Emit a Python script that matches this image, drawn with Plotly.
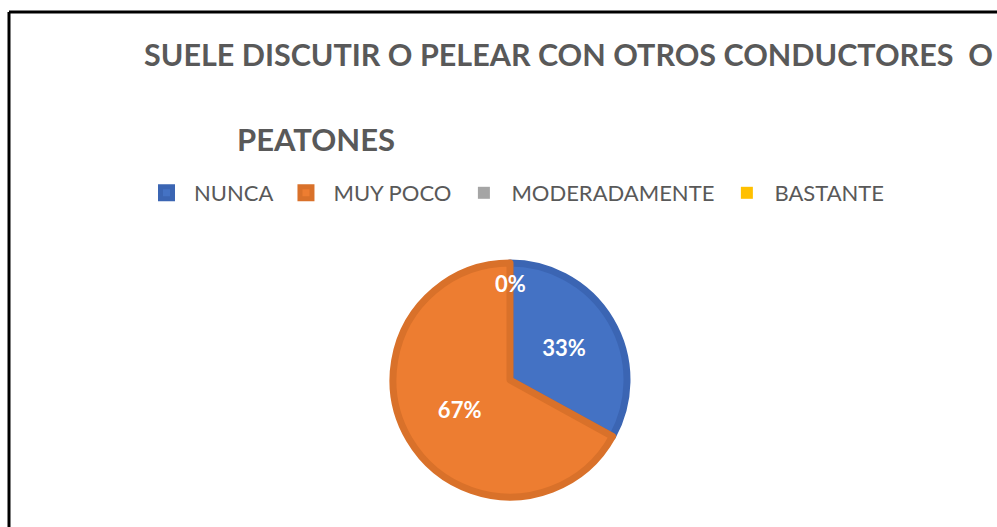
import plotly.graph_objects as go

categories = ["NUNCA", "MUY POCO", "MODERADAMENTE", "BASTANTE"]
percentages = [33, 67, 0, 0]
fill_colors = ["#4472C4", "#ED7D31", "#A5A5A5", "#FFC000"]
edge_colors = ["#3B65B3", "#D9712A", "#959595", "#E6AD00"]
edge_widths = [7, 7, 0, 0]
title_line1 = "SUELE DISCUTIR O PELEAR CON OTROS CONDUCTORES  O"
title_line2 = "PEATONES"

W, H = 997, 527

def px_x(v):
    return v / W

def px_y(v):
    return 1 - v / H

pie_cx, pie_cy, pie_r = 510, 380, 117
dom_x = [px_x(pie_cx - pie_r), px_x(pie_cx + pie_r)]
dom_y = [px_y(pie_cy + pie_r), px_y(pie_cy - pie_r)]

fig = go.Figure()
fig.add_trace(go.Pie(
    labels=categories,
    values=percentages,
    sort=False,
    direction="clockwise",
    rotation=0,
    marker=dict(colors=fill_colors, line=dict(color=edge_colors, width=edge_widths)),
    texttemplate="%{value}%",
    textposition="inside",
    insidetextorientation="horizontal",
    textfont=dict(family="Lato", size=22, color="white", weight="bold"),
    domain=dict(x=dom_x, y=dom_y),
    showlegend=True,
    hoverinfo="label+percent",
))

# label for the zero-valued slices (plotly does not draw text for empty slices)
zero_labels = [f"{v}%" for v in percentages if v == 0]
annotations = [
    dict(text=title_line1, xref="paper", yref="paper",
         x=px_x(142), y=px_y(54), xanchor="left", yanchor="middle",
         showarrow=False, font=dict(family="Lato", size=30.5, color="#595959", weight="bold")),
    dict(text=title_line2, xref="paper", yref="paper",
         x=px_x(235), y=px_y(139), xanchor="left", yanchor="middle",
         showarrow=False, font=dict(family="Lato", size=31, color="#595959", weight="bold")),
]
if zero_labels:
    annotations.append(dict(
        text=zero_labels[0], xref="paper", yref="paper",
        x=(dom_x[0] + dom_x[1]) / 2, y=dom_y[1] - 20 / H,
        xanchor="center", yanchor="middle", showarrow=False,
        font=dict(family="Lato", size=22, color="white", weight="bold"),
    ))

fig.update_layout(
    width=W, height=H,
    margin=dict(l=0, r=0, t=0, b=0),
    paper_bgcolor="white",
    plot_bgcolor="white",
    font=dict(family="Lato", color="#595959"),
    legend=dict(
        orientation="h",
        x=px_x(139), y=px_y(193),
        xanchor="left", yanchor="middle",
        font=dict(family="Lato", size=22, color="#595959"),
        itemwidth=45,
        traceorder="normal",
    ),
    annotations=annotations,
    shapes=[
        dict(type="line", xref="paper", yref="paper", x0=px_x(9), x1=1.01, y0=px_y(12), y1=px_y(12),
             line=dict(color="black", width=3)),
        dict(type="line", xref="paper", yref="paper", x0=px_x(9), x1=px_x(9), y0=px_y(12), y1=-0.01,
             line=dict(color="black", width=3)),
    ],
)

fig.write_html("out.html", config={"displayModeBar": False},
               post_script="document.body.style.margin='0';")
